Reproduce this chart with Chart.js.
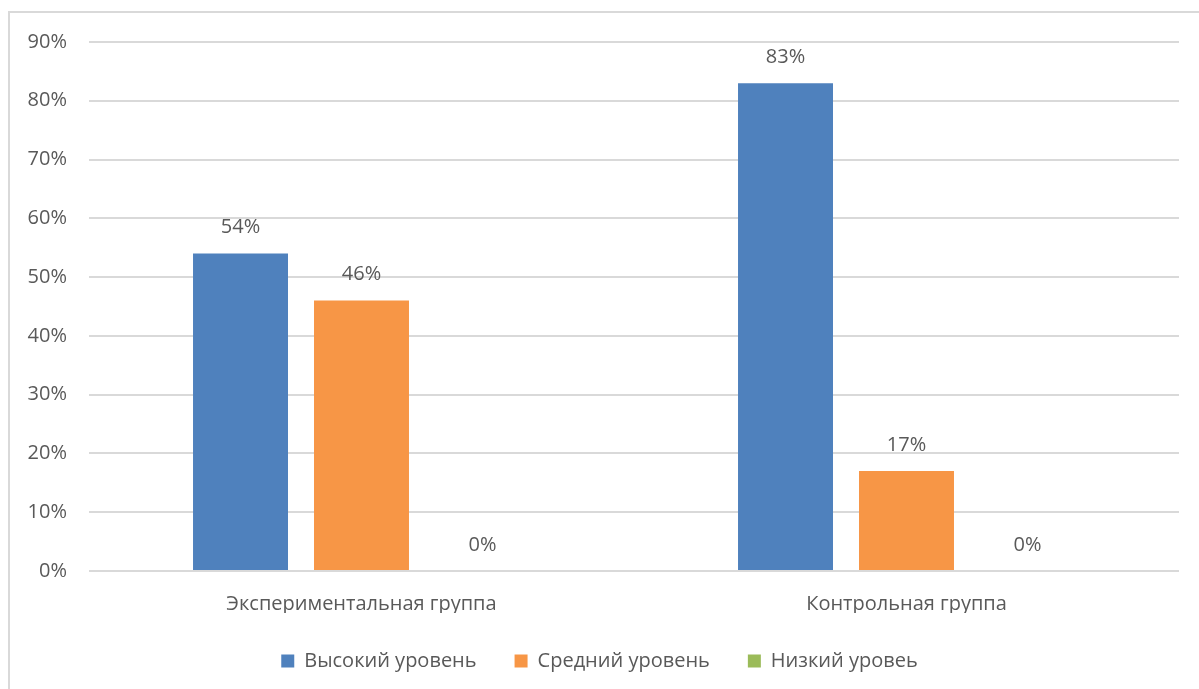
<!DOCTYPE html>
<html>
<head>
<meta charset="utf-8">
<script src="https://cdn.jsdelivr.net/npm/chart.js"></script>
<style>
  body { margin: 0; background: #fff; }
  #frame { position: absolute; left: 8px; top: 11px; width: 1300px; height: 800px; border: 2px solid #d9d9d9; box-sizing: border-box; }
  #wrap { position: absolute; left: 0; top: 0; width: 1199px; height: 689px; }
</style>
</head>
<body>
<div id="frame"></div>
<div id="wrap"><canvas id="chartUroven"></canvas></div>
<script>
// данные диаграммы
const categories = ['Экспериментальная группа', 'Контрольная группа'];
const seriesNames = ['Высокий уровень', 'Средний уровень', 'Низкий уровеь'];
const highLevel = [54, 83];
const midLevel = [46, 17];
const lowLevel = [0, 0];
const seriesColors = ['#4F81BD', '#F79646', '#9BBB59'];

const fontFamily = '"Open Sans", "Noto Sans", sans-serif';
const textColor = '#595959';

// подписи значений над столбцами
const valueLabels = {
  id: 'valueLabels',
  afterDatasetsDraw(chart) {
    const ctx = chart.ctx;
    ctx.save();
    ctx.font = '20px ' + fontFamily;
    ctx.fillStyle = textColor;
    ctx.textAlign = 'center';
    ctx.textBaseline = 'middle';
    chart.data.datasets.forEach((ds, i) => {
      chart.getDatasetMeta(i).data.forEach((bar, j) => {
        ctx.fillText(ds.data[j] + '%', bar.x, bar.y - 26);
      });
    });
    ctx.restore();
  }
};

const ctx = document.getElementById('chartUroven').getContext('2d');
new Chart(ctx, {
  type: 'bar',
  data: {
    labels: categories,
    datasets: [highLevel, midLevel, lowLevel].map((d, i) => ({
      label: seriesNames[i],
      data: d,
      backgroundColor: seriesColors[i],
      barPercentage: 0.785,
      categoryPercentage: 0.666
    }))
  },
  options: {
    responsive: true,
    maintainAspectRatio: false,
    animation: false,
    layout: { padding: { left: 20, right: 20, top: 42, bottom: 8 } },
    scales: {
      x: {
        grid: { display: false },
        border: { display: false },
        ticks: { color: textColor, font: { family: fontFamily, size: 20 }, padding: 13 },
        afterFit(scale) { scale.height = 42; }
      },
      y: {
        min: 0,
        max: 90,
        grid: { color: '#d9d9d9', lineWidth: 2, drawTicks: false },
        border: { display: false },
        ticks: {
          stepSize: 10,
          color: textColor,
          font: { family: fontFamily, size: 20 },
          padding: 22,
          callback: v => v + '%'
        },
        afterFit(scale) { scale.width = 69; }
      }
    },
    plugins: {
      legend: {
        position: 'bottom',
        labels: {
          color: textColor,
          font: { family: fontFamily, size: 20 },
          boxWidth: 13,
          boxHeight: 13,
          padding: 38
        }
      },
      tooltip: { enabled: false }
    }
  },
  plugins: [valueLabels]
});
</script>
</body>
</html>
